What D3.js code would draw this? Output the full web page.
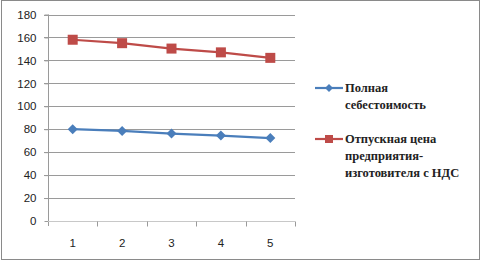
<!DOCTYPE html>
<html>
<head>
<meta charset="utf-8">
<script src="https://cdn.jsdelivr.net/npm/d3@7"></script>
<style>
  body { margin: 0; background: #fff; }
  svg { display: block; }
</style>
</head>
<body>
<div id="chart"></div>
<script>
const categories = [1, 2, 3, 4, 5];
const fullCost = [80, 78.5, 76.2, 74.5, 72.3];
const sellPrice = [158, 155, 150.3, 147, 142.2];
const yTicks = [0, 20, 40, 60, 80, 100, 120, 140, 160, 180];
const seriesNames = [
    ["Полная", "себестоимость"],
    ["Отпускная цена", "предприятия-", "изготовителя с НДС"]
];

const W = 482, H = 262;
const margin = {top: 14.5, left: 48, right: 187, bottom: 41};

let svg = d3.select("#chart").append("svg")
    .attr("width", W)
    .attr("height", H);

// outer frame
svg.append("rect")
    .attr("x", 1.5).attr("y", 0.5)
    .attr("width", W - 4).attr("height", H - 3)
    .attr("fill", "#fff")
    .attr("stroke", "#8a8a8a");

let x = d3.scaleBand()
    .domain(categories)
    .range([margin.left, W - margin.right]);

let y = d3.scaleLinear()
    .domain([0, 180])
    .range([H - margin.bottom, margin.top]);

// gridlines
svg.append("g")
    .selectAll("line")
    .data(yTicks.filter(d => d > 0))
    .enter().append("line")
    .attr("x1", margin.left - 4)
    .attr("x2", W - margin.right)
    .attr("y1", d => Math.round(y(d)) + 0.5)
    .attr("y2", d => Math.round(y(d)) + 0.5)
    .attr("stroke", "#9a9a9a");

// y axis
let yAxis = d3.axisLeft(y).tickValues(yTicks).tickSize(4).tickPadding(8);
let gy = svg.append("g")
    .attr("transform", "translate(" + (margin.left + 0.5) + ",0)")
    .call(yAxis);
gy.select(".domain").remove();
gy.append("line")
    .attr("y1", margin.top).attr("y2", H - margin.bottom + 5)
    .attr("stroke", "#9a9a9a");
gy.selectAll(".tick line").attr("stroke", "#9a9a9a");
gy.selectAll(".tick text")
    .style("font-family", "Liberation Sans")
    .style("font-size", "11.5px")
    .attr("fill", "#222");

// x axis
let gx = svg.append("g")
    .attr("transform", "translate(0," + (Math.round(y(0)) + 0.5) + ")");
gx.append("line")
    .attr("x1", margin.left).attr("x2", W - margin.right)
    .attr("stroke", "#c8c8c8");
let bounds = categories.map(d => x(d)).concat([W - margin.right]);
gx.selectAll(".xt")
    .data(bounds.slice(1))
    .enter().append("line")
    .attr("x1", d => Math.round(d) + 0.5)
    .attr("x2", d => Math.round(d) + 0.5)
    .attr("y1", 0).attr("y2", 5)
    .attr("stroke", "#9a9a9a");
gx.selectAll("text")
    .data(categories)
    .enter().append("text")
    .attr("x", d => x(d) + x.bandwidth() / 2)
    .attr("y", 25)
    .attr("text-anchor", "middle")
    .style("font-family", "Liberation Sans")
    .style("font-size", "11.5px")
    .attr("fill", "#222")
    .text(d => d);

let line = d3.line()
    .x((d, i) => x(categories[i]) + x.bandwidth() / 2)
    .y(d => y(d));

const blue = "#4a7ebb", red = "#be4b48";

function diamond(g, cx, cy, r, color) {
    g.append("path")
        .attr("d", "M" + cx + "," + (cy - r) + "L" + (cx + r) + "," + cy + "L" + cx + "," + (cy + r) + "L" + (cx - r) + "," + cy + "Z")
        .attr("fill", color);
}
function square(g, cx, cy, s, color) {
    g.append("rect")
        .attr("x", cx - s / 2).attr("y", cy - s / 2)
        .attr("width", s).attr("height", s)
        .attr("fill", color);
}

// series
let g1 = svg.append("g");
g1.append("path").datum(fullCost)
    .attr("d", line).attr("fill", "none")
    .attr("stroke", blue).attr("stroke-width", 2.2);
fullCost.forEach((v, i) => diamond(g1, x(categories[i]) + x.bandwidth() / 2, y(v), 5, blue));

let g2 = svg.append("g");
g2.append("path").datum(sellPrice)
    .attr("d", line).attr("fill", "none")
    .attr("stroke", red).attr("stroke-width", 2.2);
sellPrice.forEach((v, i) => square(g2, x(categories[i]) + x.bandwidth() / 2, y(v), 10, red));

// legend
const legendY = [92, 143];
const colors = [blue, red];
seriesNames.forEach((lines, k) => {
    let ly = legendY[k] - 4;
    svg.append("line")
        .attr("x1", 315).attr("x2", 343)
        .attr("y1", ly).attr("y2", ly)
        .attr("stroke", colors[k]).attr("stroke-width", 2.2);
    if (k === 0) diamond(svg, 329, ly, 4, blue);
    else square(svg, 329, ly, 8, red);
    lines.forEach((s, j) => {
        svg.append("text")
            .attr("x", 345).attr("y", legendY[k] + j * 17)
            .style("font-family", "Times New Roman")
            .style("font-weight", "bold")
            .style("font-size", "12.5px")
            .attr("fill", "#222")
            .text(s);
    });
});
</script>
</body>
</html>
